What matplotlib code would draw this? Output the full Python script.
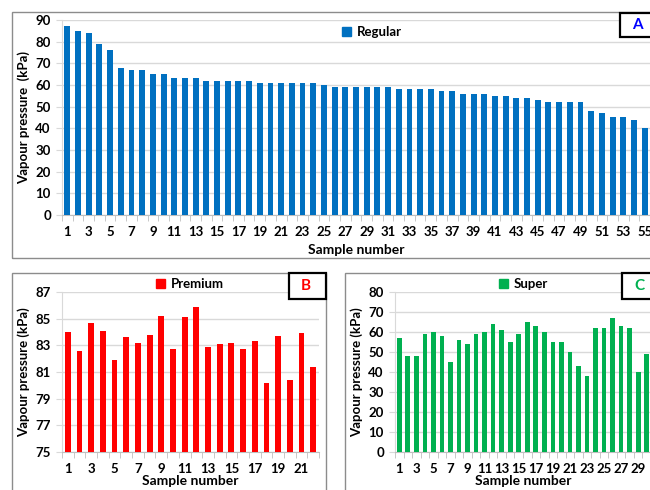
"""Vapour pressure of gasoline samples by grade: Regular, Premium and Super."""

import matplotlib

matplotlib.use("Agg")

import matplotlib.pyplot as plt
from matplotlib.patches import Patch, Rectangle

plt.rcParams["font.family"] = ["Lato", "DejaVu Sans"]
plt.rcParams["font.weight"] = "bold"

# Vapour pressure readings (kPa)
regular = [87, 85, 84, 79, 76, 68, 67, 67, 65, 65, 63, 63, 63, 62, 62, 62,
           62, 62, 61, 61, 61, 61, 61, 61, 60, 59, 59, 59, 59, 59, 59, 58,
           58, 58, 58, 57, 57, 56, 56, 56, 55, 55, 54, 54, 53, 52, 52, 52,
           52, 48, 47, 45, 45, 44, 40]
premium = [84.0, 82.6, 84.7, 84.1, 81.9, 83.6, 83.2, 83.8, 85.2, 82.7, 85.1,
           85.9, 82.9, 83.1, 83.2, 82.7, 83.3, 80.2, 83.7, 80.4, 83.9, 81.4]
super_ = [57, 48, 48, 59, 60, 58, 45, 56, 54, 59, 60, 64, 61, 55, 59, 65,
          63, 60, 55, 55, 50, 43, 38, 62, 62, 67, 63, 62, 40, 49]

W, H = 650, 490
fig = plt.figure(figsize=(W / 100, H / 100), dpi=100)


def px_axes(left, top, right, bottom):
    return fig.add_axes([left / W, 1 - bottom / H, (right - left) / W,
                         (bottom - top) / H])


def px_rect(x0, y0, x1, y1, color, lw):
    r = Rectangle((x0 / W, 1 - y1 / H), (x1 - x0) / W, (y1 - y0) / H,
                  transform=fig.transFigure, fill=False, edgecolor=color,
                  linewidth=lw, clip_on=False)
    fig.patches.append(r)


def tag(x0, y0, x1, y1, letter, color):
    r = Rectangle((x0 / W, 1 - y1 / H), (x1 - x0) / W, (y1 - y0) / H,
                  transform=fig.transFigure, facecolor="white",
                  edgecolor="black", linewidth=1.6, clip_on=False, zorder=5)
    fig.patches.append(r)
    fig.text((x0 + 17) / W, 1 - (y0 + y1) / 2 / H, letter, color=color,
             fontsize=11, fontweight="bold", ha="center", va="center",
             zorder=6)


def style(ax, values, color, width, ylim, step, label, legend_xy):
    n = len(values)
    x = list(range(1, n + 1))
    ax.bar(x, values, width=width, color=color, zorder=3)
    ax.set_xlim(0.5, n + 0.5)
    ax.set_ylim(*ylim)
    ax.set_yticks(range(ylim[0], ylim[1] + 1, step))
    ax.set_xticks(x[::2])
    ax.set_xticks([i + 0.5 for i in range(0, n + 1)], minor=True)
    ax.grid(axis="y", color="#d9d9d9", linewidth=1, zorder=0)
    for s in ["top", "right"]:
        ax.spines[s].set_visible(False)
    ax.spines["left"].set_color("#d9d9d9")
    ax.spines["bottom"].set_color("#bfbfbf")
    ax.tick_params(axis="x", which="major", length=0, pad=8, labelsize=9.5)
    ax.tick_params(axis="x", which="minor", length=4, color="#bfbfbf")
    ax.tick_params(axis="y", length=4, color="#d9d9d9", pad=4, labelsize=9.5)
    ax.set_xlabel("Sample number", fontsize=10, fontweight="bold",
                  labelpad=0)
    ax.set_ylabel("Vapour pressure  (kPa)", fontsize=9.5, fontweight="bold",
                  labelpad=4)
    ax.set_facecolor("none")
    leg = fig.legend(handles=[Patch(color=color, label=label)],
                     loc="center left", frameon=False, fontsize=9.5,
                     handlelength=0.7, handleheight=0.7, handletextpad=0.4,
                     bbox_to_anchor=(legend_xy[0] / W, 1 - legend_xy[1] / H))
    for t in leg.get_texts():
        t.set_fontweight("bold")


# panel frames
px_rect(12, 12, 700, 258, "#8c8c8c", 1.0)
px_rect(12, 273, 326, 520, "#8c8c8c", 1.0)
px_rect(345, 273, 700, 520, "#8c8c8c", 1.0)

ax_a = px_axes(62, 20, 650, 215)
style(ax_a, regular, "#0070c0", 0.55, (0, 90), 10, "Regular", (330, 32))
ax_a.xaxis.labelpad = 4

ax_b = px_axes(62, 292, 319, 452)
style(ax_b, premium, "#ff0000", 0.5, (75, 87), 2, "Premium", (144, 284))
ax_b.set_ylabel("Vapour pressure (kPa)", fontsize=9.5, fontweight="bold")

ax_c = px_axes(395, 292, 651, 452)
style(ax_c, super_, "#00b050", 0.55, (0, 80), 10, "Super", (487, 284))
ax_c.set_ylabel("Vapour pressure (kPa)", fontsize=9.5, fontweight="bold")

tag(620, 13, 680, 37, "A", "#0000ff")
tag(289, 273, 326, 299, "B", "#ff0000")
tag(622, 273, 680, 299, "C", "#00b050")

plt.savefig("out.png", dpi=100)
print("Plot saved as 'out.png'")
